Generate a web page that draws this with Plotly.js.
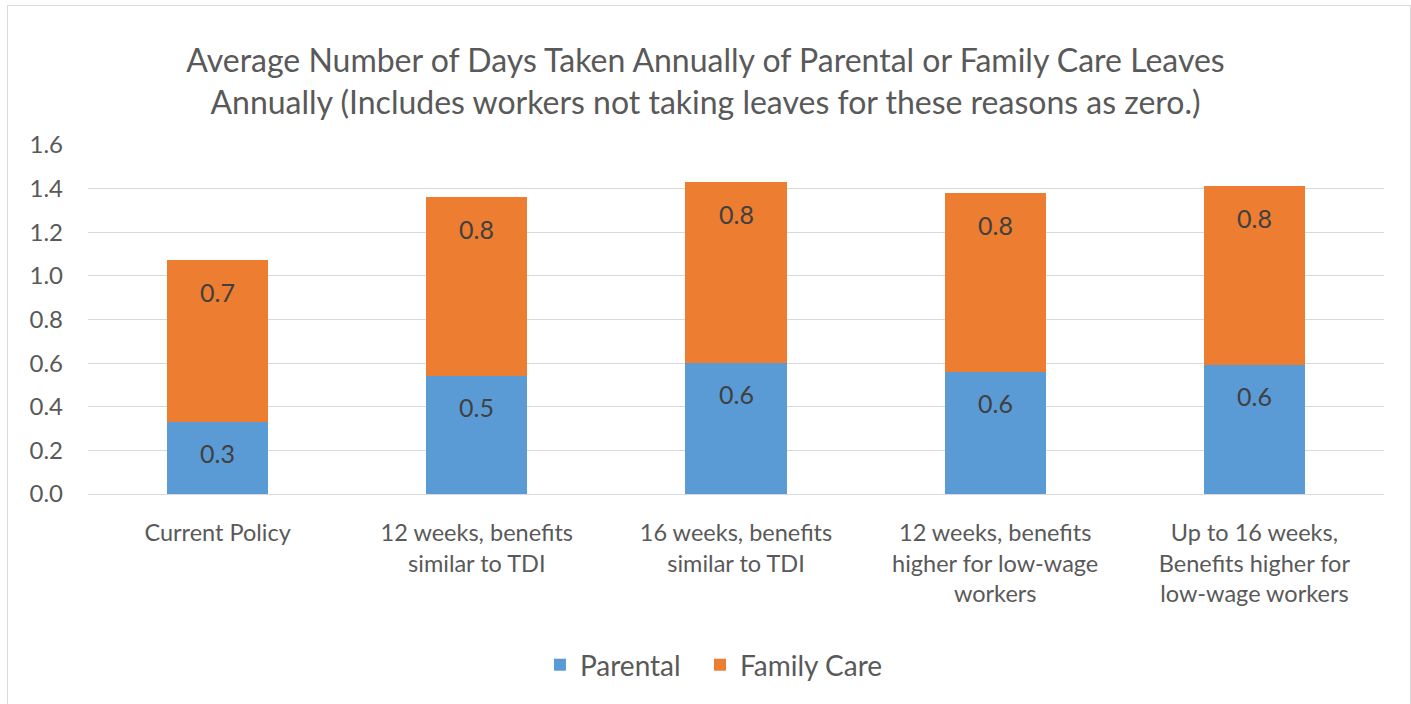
<!DOCTYPE html>
<html><head><meta charset="utf-8">
<script src="https://cdn.plot.ly/plotly-3.0.1.min.js"></script>
<style>body{margin:0;background:#fff;overflow:hidden}#chart{width:1411px;height:704px;position:relative}
#frame{position:absolute;left:7px;top:5px;width:1404px;height:720px;border:1px solid #d9d9d9;pointer-events:none;box-sizing:border-box}</style>
</head><body><div id="chart"></div><div id="frame"></div>
<script>
const categories = ["Current Policy", "12 weeks, benefits<br>similar to TDI", "16 weeks, benefits<br>similar to TDI", "12 weeks, benefits<br>higher for low-wage<br>workers", "Up to 16 weeks,<br>Benefits higher for<br>low-wage workers"];
const parental = [0.33, 0.54, 0.60, 0.56, 0.59];
const familyCare = [0.745, 0.82, 0.83, 0.82, 0.82];
const FONT = "Lato, 'Open Sans', sans-serif";
const fmt = v => (Math.round(v * 10 - 1e-6) / 10).toFixed(1);
const traces = [
 {type:'bar', name:'Parental&nbsp;&nbsp;', x:categories, y:parental, marker:{color:'#5b9bd5'}, hoverinfo:'none'},
 {type:'bar', name:'Family Care', x:categories, y:familyCare, marker:{color:'#ed7d31'}, hoverinfo:'none'}
];
// value labels placed at each segment's top through the axis scales
const annotations = [];
categories.forEach((c, i) => {
  annotations.push({x:c, y:parental[i], xref:'x', yref:'y', yshift:-31, yanchor:'middle', showarrow:false, text:fmt(parental[i]), font:{size:25, color:'#404040', family:FONT}});
  annotations.push({x:c, y:parental[i] + familyCare[i], xref:'x', yref:'y', yshift:-32, yanchor:'middle', showarrow:false, text:fmt(familyCare[i]), font:{size:25, color:'#404040', family:FONT}});
});
const layout = {
 width:1411, height:704, barmode:'stack', bargap:0.61,
 paper_bgcolor:'rgba(0,0,0,0)', plot_bgcolor:'#fff',
 margin:{l:88, r:27, t:145, b:210},
 font:{family:FONT, color:'#595959'},
 title:{text:'Average Number of Days Taken Annually of Parental or Family Care Leaves<br>Annually (Includes workers not taking leaves for these reasons as zero.)', font:{size:32, color:'#595959', family:FONT}, x:0.5, xanchor:'center', yref:'container', y:1-72/704, yanchor:'middle'},
 xaxis:{tickfont:{size:23.5, color:'#595959'}, showline:true, linecolor:'#d9d9d9', ticks:'', automargin:false, ticklabelstandoff:18},
 yaxis:{range:[0,1.6], dtick:0.2, tickformat:'.1f', tickfont:{size:24, color:'#595959'}, gridcolor:'#d9d9d9', zeroline:false, showline:false, ticks:'', automargin:false, ticklabelstandoff:24},
 legend:{orientation:'h', x:0.483, xanchor:'center', y:-0.49, yanchor:'middle', font:{size:28, color:'#595959'}, traceorder:'normal'},
 annotations:annotations,
 showlegend:true
};
Plotly.newPlot('chart', traces, layout, {displayModeBar:false, staticPlot:true});
</script></body></html>
